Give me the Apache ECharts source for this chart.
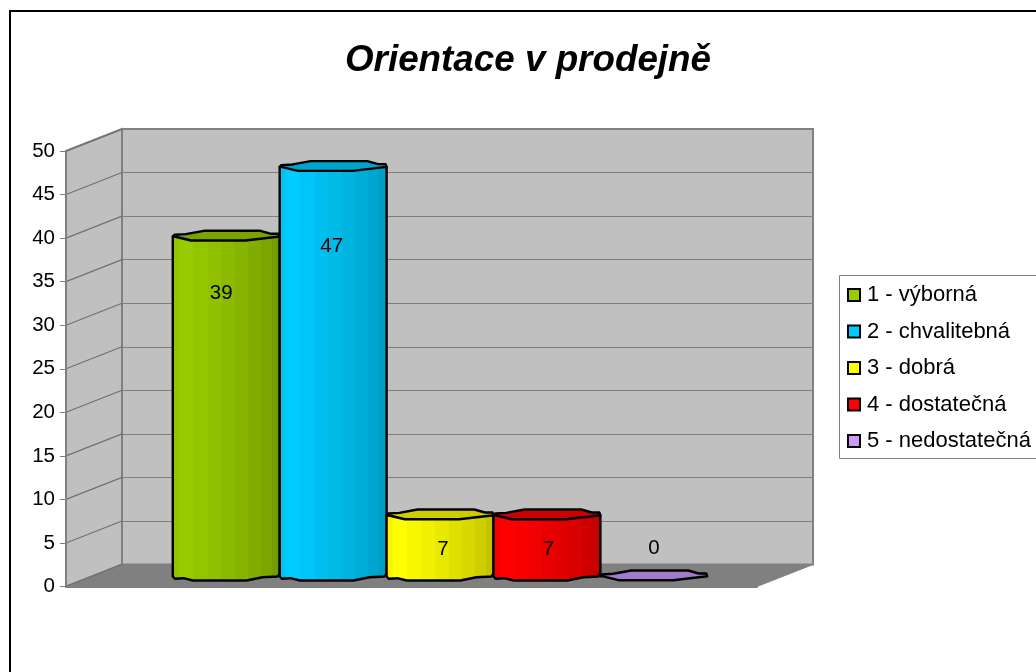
<!DOCTYPE html>
<html><head><meta charset="utf-8">
<style>html,body{margin:0;padding:0;background:#fff}#c{width:1036px;height:672px}</style>
<script src="https://cdn.jsdelivr.net/npm/echarts@6/dist/echarts.min.js"></script>
</head><body><div id="c"></div>
<script>
const chartTitle = "Orientace v prodejně";
const categories = [""];
const seriesNames = ["1 - výborná", "2 - chvalitebná", "3 - dobrá", "4 - dostatečná", "5 - nedostatečná"];
const seriesValues = [39, 47, 7, 7, 0];
const seriesColors = ["#99cc00", "#00ccff", "#ffff00", "#ff0000", "#cc99ff"];
const axisMax = 50;
const axisStep = 5;
const tickValues = [0, 5, 10, 15, 20, 25, 30, 35, 40, 45, 50];

const FONT = "Liberation Sans";
const DEPTH_X = 56, DEPTH_Y = 22;
const BAR_FRAC = 0.1547, GAP_FRAC = 0.1133;
const labelShift = [[-5, 58], [-1.5, 80], [3, 35], [1.5, 35], [0, -27]];
const bandStops = [0, .07, .2, .33, .45, .58, .7, .82, .92, 1];
const bandShade = [.96, 1, .97, .94, .91, .88, .85, .81, .77];
const outlineTop = [[0,.7],[.015,-1],[.12,-1.7],[.29,-5],[.82,-5],[.92,-2],[.99,-2],[1,.7],[.68,4.7],[.17,4.7],[.015,.7]];
const outlineBottom = [[1,-2],[.98,1],[.84,1.7],[.69,5],[.19,5],[.1,2.7],[.02,3.3],[0,1]];

function shade(hex, f) {
  const n = parseInt(hex.slice(1), 16);
  const c = [n >> 16, (n >> 8) & 255, n & 255].map(v => Math.round(v * f));
  return "rgb(" + c.join(",") + ")";
}
function bands(hex) {
  const stops = [];
  bandShade.forEach((s, i) => {
    stops.push({offset: bandStops[i], color: shade(hex, s)});
    stops.push({offset: bandStops[i + 1], color: shade(hex, s)});
  });
  return {type: "linear", x: 0, y: 0, x2: 1, y2: 0, colorStops: stops};
}

function renderWalls(params, api) {
  const band = api.size([1, 0])[0];
  const cx = api.coord([0, 0])[0];
  const left = cx - band / 2, right = cx + band / 2;
  const y0 = api.coord([0, 0])[1], yTop = api.coord([0, axisMax])[1];
  const children = [
    {type: "polygon", shape: {points: [[left, yTop], [left + DEPTH_X, yTop - DEPTH_Y], [left + DEPTH_X, y0 - DEPTH_Y], [left, y0]]},
     style: {fill: "#c0c0c0", stroke: "#808080", lineWidth: 2}},
    {type: "polygon", shape: {points: [[left, y0], [left + DEPTH_X, y0 - DEPTH_Y], [right + DEPTH_X, y0 - DEPTH_Y], [right, y0]]},
     style: {fill: "#808080", stroke: "#808080", lineWidth: 1}}
  ];
  tickValues.forEach(v => {
    const y = api.coord([0, v])[1];
    children.push({type: "line", shape: {x1: left, y1: y, x2: left + DEPTH_X, y2: y - DEPTH_Y},
      style: {stroke: "#707070", lineWidth: 1.2}});
  });
  return {type: "group", children};
}

function renderCylinder(idx) {
  return function (params, api) {
    const band = api.size([1, 0])[0];
    const cx = api.coord([0, 0])[0];
    const w = band * BAR_FRAC;
    const x0 = cx - band / 2 + band * GAP_FRAC + idx * w + DEPTH_X / 2 + 0.5;
    const val = api.value(1);
    const yb = api.coord([0, 0])[1] - DEPTH_Y / 2;
    const yt = api.coord([0, val])[1] - DEPTH_Y / 2;
    const color = seriesColors[idx];
    const P = (o, y) => [x0 + o[0] * w, y + o[1]];
    const body = [[x0, yt + .7], [x0 + w, yt + .7]].concat(outlineBottom.map(o => P(o, yb)));
    const top = outlineTop.map(o => P(o, yt));
    const base = {stroke: "#000", lineWidth: 2.4, lineJoin: "round"};
    const children = [];
    if (val > 0) children.push({type: "polygon", shape: {points: body}, style: Object.assign({fill: bands(color)}, base)});
    children.push({type: "polygon", shape: {points: top}, style: Object.assign({fill: shade(color, .8)}, base)});
    children.push({type: "text", z2: 10, style: {
      text: String(val), x: x0 + w / 2 + labelShift[idx][0], y: yt + labelShift[idx][1],
      align: "center", verticalAlign: "middle", font: "20.5px '" + FONT + "'", fill: "#000"}});
    return {type: "group", children};
  };
}

const grid = {left: 66, right: 279, top: 151, bottom: 85.5};
const backGrid = {left: 66 + DEPTH_X, right: 279 - DEPTH_X, top: 151 - DEPTH_Y, bottom: 85.5 + DEPTH_Y,
  show: true, backgroundColor: "#c0c0c0", borderColor: "#808080", borderWidth: 2};

const chart = echarts.init(document.getElementById("c"), null, {renderer: "canvas"});
chart.setOption({
  animation: false,
  backgroundColor: "#fff",
  title: {text: chartTitle, left: 523, top: 37, textAlign: "center",
    textStyle: {fontFamily: FONT, fontSize: 36.8, fontWeight: "bold", fontStyle: "italic", color: "#000"}},
  graphic: [
    {type: "rect", z: -1, shape: {x: 10, y: 11, width: 1200, height: 900}, style: {fill: "#fff", stroke: "#000", lineWidth: 2}},
    {type: "rect", z: -1, shape: {x: 839.5, y: 275.5, width: 400, height: 183}, style: {fill: "#fff", stroke: "#808080", lineWidth: 1}}
  ],
  legend: {
    orient: "vertical", left: 847, top: 284, padding: 0, itemGap: 14.5, itemWidth: 12, itemHeight: 12,
    selectedMode: false, icon: "rect",
    data: seriesNames,
    itemStyle: {borderColor: "#000", borderWidth: 2},
    textStyle: {fontFamily: FONT, fontSize: 22, color: "#000", padding: [0, 0, 0, 2]}
  },
  grid: [grid, backGrid],
  xAxis: [
    {type: "category", gridIndex: 0, data: categories, z: 5, axisLabel: {show: false}, axisTick: {show: false},
     axisLine: {lineStyle: {color: "#808080", width: 2}}},
    {type: "category", gridIndex: 1, data: categories, axisLabel: {show: false}, axisTick: {show: false}, axisLine: {show: false}}
  ],
  yAxis: [
    {type: "value", gridIndex: 0, min: 0, max: axisMax, interval: axisStep, z: 5, splitLine: {show: false},
     axisLine: {show: true, lineStyle: {color: "#808080", width: 2}},
     axisTick: {show: true, length: 6, lineStyle: {color: "#808080"}},
     axisLabel: {margin: 11, fontFamily: FONT, fontSize: 20.5, color: "#000"}},
    {type: "value", gridIndex: 1, min: 0, max: axisMax, interval: axisStep, axisLabel: {show: false}, axisTick: {show: false},
     axisLine: {show: false}, splitLine: {show: true, lineStyle: {color: "#808080", width: 1.2}}}
  ],
  series: [
    {type: "custom", name: "walls", xAxisIndex: 0, yAxisIndex: 0, z: 1, silent: true, data: [[0, 0]], renderItem: renderWalls, clip: false}
  ].concat(seriesNames.map((name, i) => ({
    type: "custom", name, xAxisIndex: 0, yAxisIndex: 0, z: 3 + i, silent: true, clip: false,
    itemStyle: {color: seriesColors[i]},
    data: [[0, seriesValues[i]]],
    encode: {x: 0, y: 1},
    renderItem: renderCylinder(i)
  })))
});
</script></body></html>
